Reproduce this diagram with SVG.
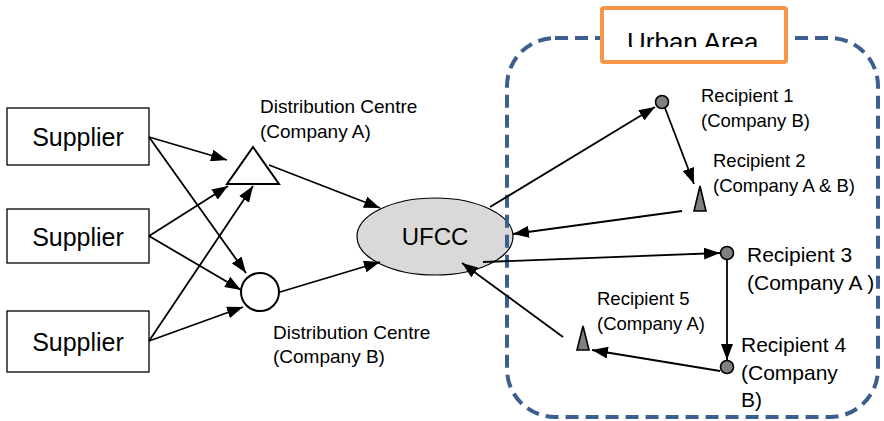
<svg xmlns="http://www.w3.org/2000/svg" width="884" height="421" viewBox="0 0 884 421">
<style>
text { font-family: "Liberation Sans", Arial, sans-serif; fill: #000; }
.box { fill: #fff; stroke: #000; stroke-width: 1.3; }
.sup { font-size: 25px; }
.lbl { font-size: 19px; }
.rl { font-size: 18.5px; }
.rl2 { font-size: 21px; }
.conn line { stroke: #000; stroke-width: 1.8; marker-end: url(#arr); }
.rnode { fill: #808080; stroke: #000; stroke-width: 1.6; }
</style>
<defs>
<marker id="arr" viewBox="0 0 16 12" refX="16" refY="6" markerWidth="16" markerHeight="12" markerUnits="userSpaceOnUse" orient="auto">
<path d="M0,0 L16,6 L0,12 z" fill="#000"/>
</marker>
<clipPath id="uaclip"><rect x="604" y="10" width="180" height="37"/></clipPath>
</defs>
<rect width="884" height="421" fill="#fff"/>

<g id="ufcc">
<ellipse cx="435" cy="236.5" rx="78" ry="38.5" fill="#d9d9d9" stroke="#000" stroke-width="1.2"/>
<text x="435" y="245" font-size="24" text-anchor="middle">UFCC</text>
</g>

<g id="urban-area">
<rect x="507" y="38" width="371" height="379" rx="48" ry="48" fill="none" stroke="#3c5f8f" stroke-width="4" stroke-dasharray="13 7"/>
<rect x="602" y="8" width="184" height="54" rx="2" fill="#fff" stroke="#f79646" stroke-width="4"/>
<text x="627" y="50.6" font-size="26" clip-path="url(#uaclip)">Urban Area</text>
</g>

<g id="supplier1">
<rect class="box" x="7" y="108" width="142" height="57"/>
<text class="sup" x="78" y="146" text-anchor="middle">Supplier</text>
</g>
<g id="supplier2">
<rect class="box" x="7" y="209" width="142" height="54"/>
<text class="sup" x="78" y="246" text-anchor="middle">Supplier</text>
</g>
<g id="supplier3">
<rect class="box" x="7" y="311" width="142" height="61"/>
<text class="sup" x="78" y="351" text-anchor="middle">Supplier</text>
</g>

<g id="dc-a">
<polygon points="253,147 279,184 227,184" fill="#fff" stroke="#000" stroke-width="2"/>
<text class="lbl" x="260" y="113">Distribution Centre</text>
<text class="lbl" x="260" y="138">(Company A)</text>
</g>

<g id="dc-b">
<circle cx="260" cy="292" r="19" fill="#fff" stroke="#000" stroke-width="2"/>
<text class="lbl" x="273" y="339">Distribution Centre</text>
<text class="lbl" x="273" y="363">(Company B)</text>
</g>

<g id="recipient1">
<circle class="rnode" cx="662" cy="102" r="6.5"/>
<text class="rl" x="701" y="102">Recipient 1</text>
<text class="rl" x="701" y="127">(Company B)</text>
</g>
<g id="recipient2">
<polygon class="rnode" points="700,186 706,211 694,211"/>
<text class="rl" x="713" y="167">Recipient 2</text>
<text class="rl" x="713" y="192">(Company A &amp; B)</text>
</g>
<g id="recipient3">
<circle class="rnode" cx="727" cy="253" r="6.5"/>
<text class="rl2" x="747" y="262">Recipient 3</text>
<text class="rl2" x="747" y="290">(Company A )</text>
</g>
<g id="recipient4">
<circle class="rnode" cx="727" cy="367" r="6.5"/>
<text class="rl2" x="741" y="352">Recipient 4</text>
<text class="rl2" x="741" y="380">(Company</text>
<text class="rl2" x="741" y="407">B)</text>
</g>
<g id="recipient5">
<polygon class="rnode" points="583,326 589,350 577,350"/>
<text class="rl" x="597" y="305">Recipient 5</text>
<text class="rl" x="597" y="330">(Company A)</text>
</g>

<g id="connectors" class="conn">
<line x1="149" y1="137" x2="227" y2="160"/>
<line x1="149" y1="137" x2="246" y2="273"/>
<line x1="149" y1="236" x2="228" y2="186"/>
<line x1="149" y1="236" x2="241" y2="290"/>
<line x1="149" y1="341" x2="253" y2="186"/>
<line x1="149" y1="341" x2="243" y2="307"/>
<line x1="269" y1="165" x2="380" y2="208"/>
<line x1="280" y1="292" x2="380" y2="262"/>
<line x1="490" y1="207" x2="655" y2="107"/>
<line x1="665" y1="108" x2="694" y2="184"/>
<line x1="682" y1="211" x2="513" y2="234"/>
<line x1="483" y1="262" x2="720" y2="253"/>
<line x1="727" y1="260" x2="727" y2="360"/>
<line x1="720" y1="371" x2="592" y2="350"/>
<line x1="563" y1="337" x2="462" y2="263"/>
</g>
</svg>
